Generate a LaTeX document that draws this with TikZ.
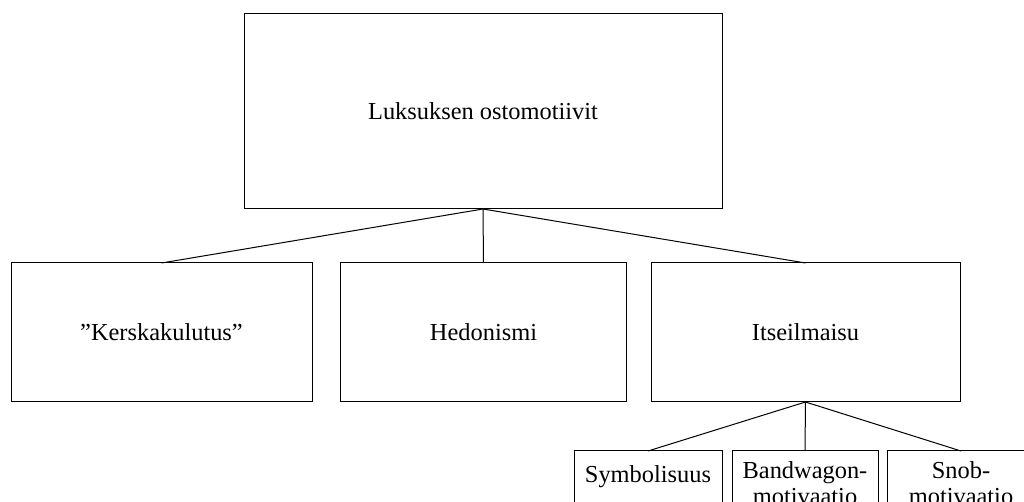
\documentclass[tikz,border=0pt]{standalone}
\usepackage{fontspec}
\setmainfont{Liberation Serif}
\begin{document}
\begin{tikzpicture}[x=0.5pt,y=-0.5pt,
  box/.style={draw=black,line width=0.5pt,rectangle,inner sep=0pt,outer sep=0pt,
    font=\fontsize{12.2}{13.3}\selectfont,align=center},
  link/.style={draw=black,line width=0.5pt}]
\useasboundingbox (0,0) rectangle (1024,502);
\clip (0,0) rectangle (1024,502);
\node[box,minimum width=239pt,minimum height=97.5pt] (top) at (483,111.5) {Luksuksen ostomotiivit};
\node[box,minimum width=150.5pt,minimum height=69.5pt] (k) at (161.5,332.5) {”Kerskakulutus”};
\node[box,minimum width=143pt,minimum height=69.5pt] (h) at (483.5,332.5) {Hedonismi};
\node[box,minimum width=154.5pt,minimum height=69.5pt] (i) at (805.5,332.5) {Itseilmaisu};
\node[box,anchor=north,minimum width=74pt,minimum height=26pt] (s) at (648,451) {Symbolisuus};
\node[box,anchor=north,minimum width=73pt,minimum height=32pt] (b) at (805,451) {Bandwagon-\\motivaatio};
\node[box,anchor=north,minimum width=74pt,minimum height=32pt] (n) at (961,451) {Snob-\\motivaatio};
\draw[link] (top.south) -- (k.north);
\draw[link] (top.south) -- (h.north);
\draw[link] (top.south) -- (i.north);
\draw[link] (i.south) -- (s.north);
\draw[link] (i.south) -- (b.north);
\draw[link] (i.south) -- (n.north);
\end{tikzpicture}
\end{document}
